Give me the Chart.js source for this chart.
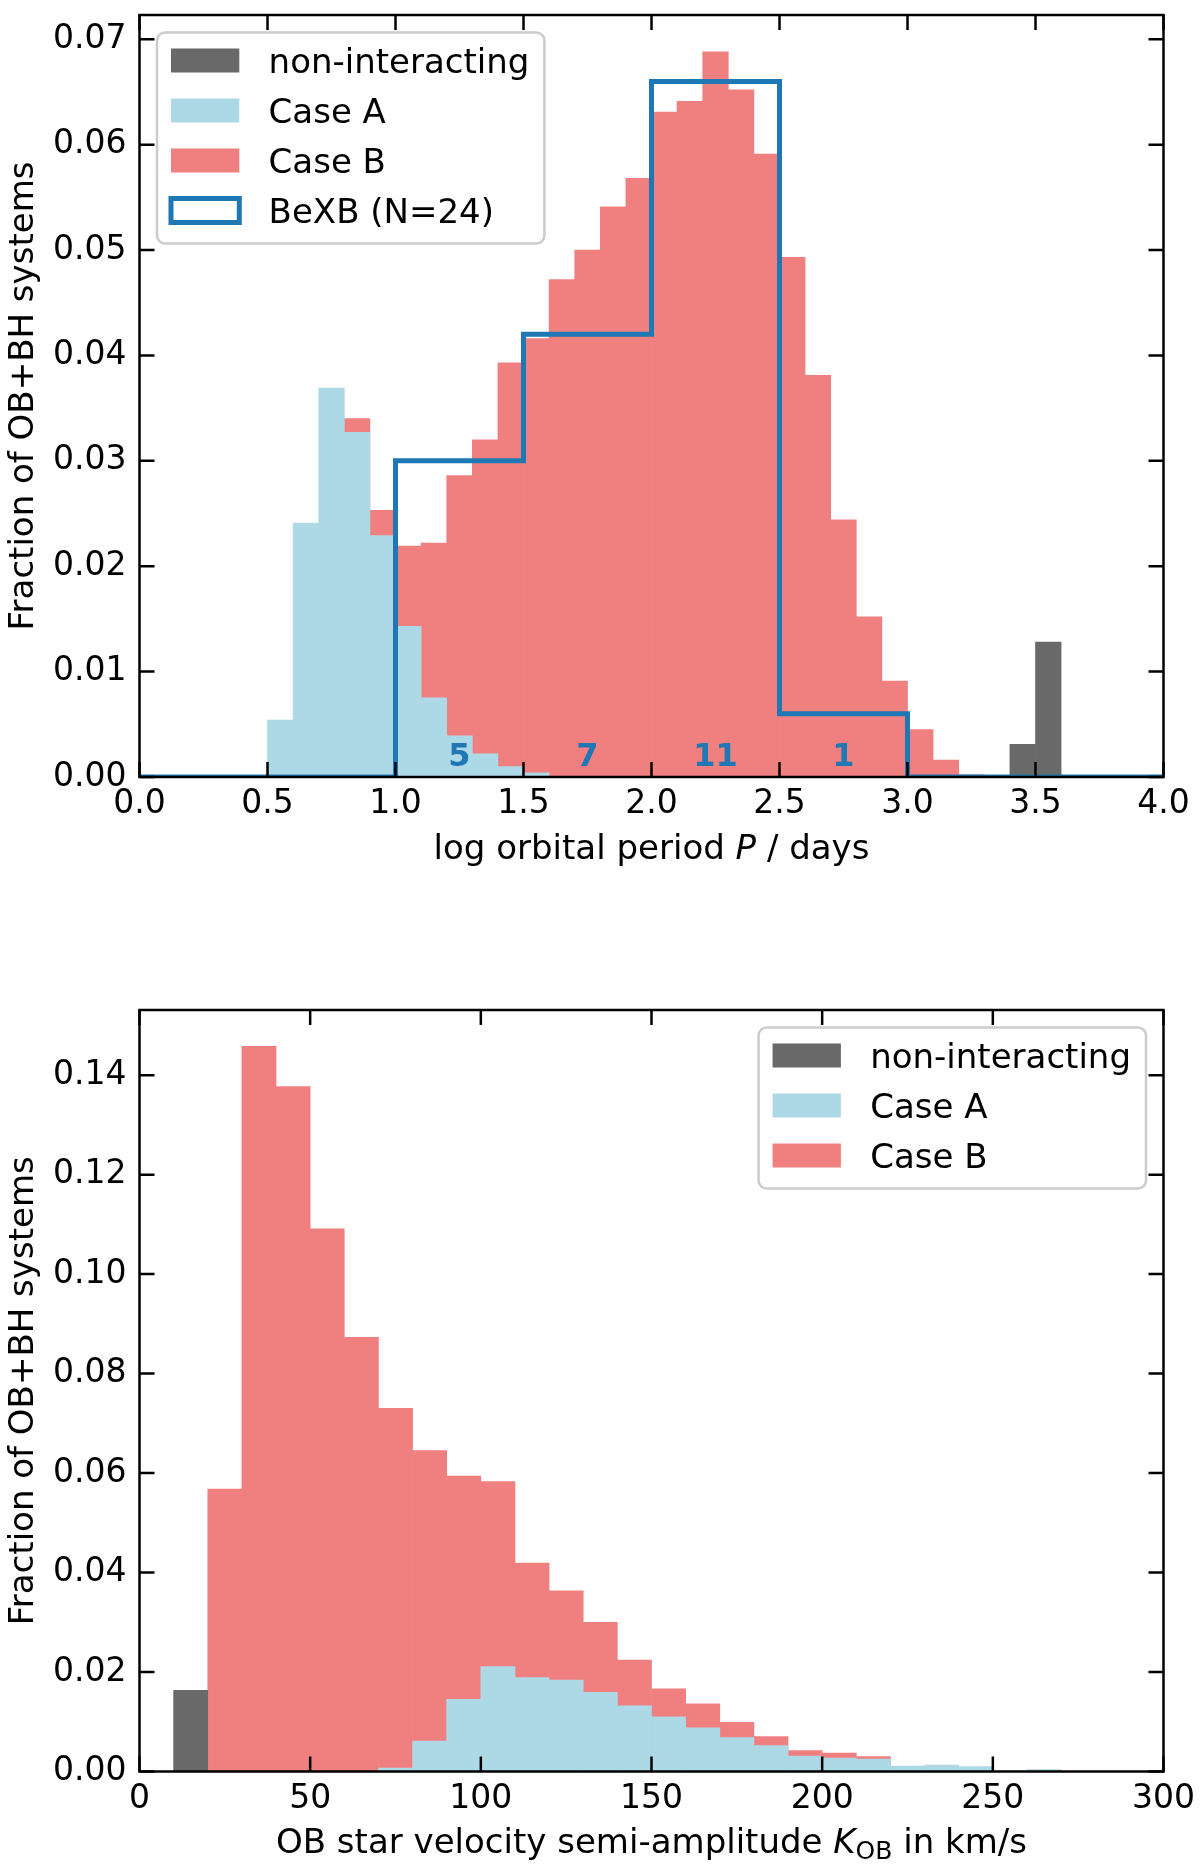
<!DOCTYPE html>
<html>
<head>
<meta charset="utf-8">
<script src="https://cdn.jsdelivr.net/npm/chart.js@4.4.0/dist/chart.umd.min.js"></script>
<style>
  html, body { margin: 0; padding: 0; background: #fff; }
  canvas { display: block; }
</style>
</head>
<body>
<canvas id="periodChart" width="1200" height="920"></canvas>
<canvas id="velocityChart" width="1200" height="954"></canvas>
<script>
// ---- top panel: log orbital period, 0.1 dex bins (left edges) ----
const periodBinWidth = 0.1;
const periodBins = [0.5, 0.6, 0.7, 0.8, 0.9, 1.0, 1.1, 1.2, 1.3, 1.4, 1.5, 1.6, 1.7, 1.8, 1.9, 2.0,
                    2.1, 2.2, 2.3, 2.4, 2.5, 2.6, 2.7, 2.8, 2.9, 3.0, 3.1, 3.2, 3.3, 3.4, 3.5];
const periodNonInteracting = [0, 0, 0, 0, 0, 0, 0, 0, 0, 0, 0, 0, 0, 0, 0, 0,
                              0, 0, 0, 0, 0, 0, 0, 0, 0, 0, 0, 0, 0, 0.0031, 0.0128];
const periodCaseA = [0.0054, 0.0241, 0.0369, 0.0327, 0.0229, 0.0143, 0.0075, 0.0039, 0.0022, 0.0010, 0.0004,
                     0, 0, 0, 0, 0, 0, 0, 0, 0, 0, 0, 0, 0, 0, 0, 0, 0, 0, 0, 0];
const periodCaseB = [null, null, null, 0.0340, 0.0253, 0.0219, 0.0222, 0.0286, 0.0320, 0.0393, 0.0416,
                     0.0472, 0.0500, 0.0541, 0.0568, 0.0631, 0.0641, 0.0688, 0.0652, 0.0591, 0.0493,
                     0.0381, 0.0244, 0.0152, 0.0091, 0.0045, 0.0016, 0.0002, 0, 0, 0];
// observed BeXB, 0.5 dex bins
const bexbEdges = [0.0, 0.5, 1.0, 1.5, 2.0, 2.5, 3.0, 3.5, 4.0];
const bexbFraction = [0, 0, 0.030, 0.042, 0.066, 0.006, 0, 0];
const bexbCounts = [null, null, 5, 7, 11, 1, null, null];

const periodTicks = [0, 0.5, 1.0, 1.5, 2.0, 2.5, 3.0, 3.5, 4.0];
const periodTickLabels = ['0.0', '0.5', '1.0', '1.5', '2.0', '2.5', '3.0', '3.5', '4.0'];
const periodFracTicks = [0, 0.01, 0.02, 0.03, 0.04, 0.05, 0.06, 0.07];
const periodFracTickLabels = ['0.00', '0.01', '0.02', '0.03', '0.04', '0.05', '0.06', '0.07'];

// ---- bottom panel: K_OB, 10 km/s bins (left edges) ----
const velocityBinWidth = 10;
const velocityBins = [10, 20, 30, 40, 50, 60, 70, 80, 90, 100, 110, 120, 130,
                      140, 150, 160, 170, 180, 190, 200, 210, 220, 230, 240, 250, 260];
const velocityNonInteracting = [0.0163, 0, 0, 0, 0, 0, 0, 0, 0, 0, 0, 0, 0,
                                0, 0, 0, 0, 0, 0, 0, 0, 0, 0, 0, 0, 0];
const velocityCaseA = [0, 0, 0, 0, 0, 0, 0.0007, 0.0061, 0.0145, 0.0211, 0.0189, 0.0184, 0.0159,
                       0.0132, 0.0110, 0.0088, 0.0068, 0.0052, 0.0031, 0.0027, 0.0025, 0.0011, 0.0013, 0.0010, 0.0002, 0.0004];
const velocityCaseB = [0, 0.0568, 0.1458, 0.1377, 0.1091, 0.0873, 0.0730, 0.0645, 0.0594, 0.0583, 0.0419, 0.0363, 0.0300,
                       0.0224, 0.0166, 0.0136, 0.0099, 0.0070, 0.0042, 0.0037, 0.0030, null, null, null, null, null];

const velocityTicks = [0, 50, 100, 150, 200, 250, 300];
const velocityTickLabels = ['0', '50', '100', '150', '200', '250', '300'];
const velocityFracTicks = [0, 0.02, 0.04, 0.06, 0.08, 0.10, 0.12, 0.14];
const velocityFracTickLabels = ['0.00', '0.02', '0.04', '0.06', '0.08', '0.10', '0.12', '0.14'];

const GRAY = '#696969';   // dimgray
const BLUE = '#add8e6';   // lightblue
const RED = '#f08080';    // lightcoral
const LINE = '#1f77b4';
const FONT = '"DejaVu Sans", sans-serif';

Chart.defaults.font.family = FONT;
Chart.defaults.color = '#000';

function toBars(bins, values, width) {
  return bins.map((b, i) => ({ x: b + width / 2, y: values[i] }));
}

// outline of a step histogram, like histtype='step'
function stepPoints(edges, values) {
  const pts = [{ x: edges[0], y: 0 }];
  values.forEach((v, i) => {
    pts.push({ x: edges[i], y: v });
    pts.push({ x: edges[i + 1], y: v });
  });
  pts.push({ x: edges[edges.length - 1], y: 0 });
  return pts;
}

function barSet(label, color, data, order) {
  return {
    type: 'bar', label, data, order,
    backgroundColor: color, borderWidth: 0,
    grouped: false, barPercentage: 1, categoryPercentage: 1
  };
}

function fixedTicks(values, labels, padding) {
  return {
    afterBuildTicks: s => { s.ticks = values.map(v => ({ value: v })); },
    ticks: {
      callback: (v, i) => labels[i],
      autoSkip: false, maxRotation: 0, minRotation: 0, padding,
      font: { size: 33, lineHeight: 1 }, color: '#000'
    }
  };
}

// spines + inward ticks on all four sides
const frameTicks = {
  id: 'frameTicks',
  afterDraw(chart) {
    const { ctx, chartArea: a, scales: { x, y } } = chart;
    const len = 15;
    ctx.save();
    ctx.strokeStyle = '#000';
    ctx.lineWidth = 2.5;
    ctx.beginPath();
    x.ticks.forEach(t => {
      const p = x.getPixelForValue(t.value);
      ctx.moveTo(p, a.bottom); ctx.lineTo(p, a.bottom - len);
      ctx.moveTo(p, a.top); ctx.lineTo(p, a.top + len);
    });
    y.ticks.forEach(t => {
      const p = y.getPixelForValue(t.value);
      ctx.moveTo(a.left, p); ctx.lineTo(a.left + len, p);
      ctx.moveTo(a.right, p); ctx.lineTo(a.right - len, p);
    });
    ctx.stroke();
    ctx.strokeRect(a.left, a.top, a.right - a.left, a.bottom - a.top);
    ctx.restore();
  }
};

function makeLegend(align) {
  return {
    id: 'mplLegend',
    afterDraw(chart) {
      const { ctx, chartArea: a } = chart;
      const items = chart.data.datasets;
      ctx.save();
      ctx.font = '34px ' + FONT;
      const textW = Math.max(...items.map(d => ctx.measureText(d.label).width));
      const w = 111.6 + textW + 15;
      const h = 28 + (items.length - 1) * 50 + 33;
      const inset = 17.5;
      const left = align === 'right' ? a.right - inset - w : a.left + inset;
      const top = a.top + inset;
      ctx.beginPath();
      ctx.roundRect(left, top, w, h, 8);
      ctx.fillStyle = 'rgba(255,255,255,0.8)';
      ctx.fill();
      ctx.strokeStyle = '#cccccc';
      ctx.lineWidth = 2.5;
      ctx.stroke();
      items.forEach((d, i) => {
        const cy = top + 28 + i * 50;
        const px = left + 14, py = cy - 12;
        if (d.type === 'line') {
          ctx.strokeStyle = d.borderColor;
          ctx.lineWidth = 5;
          ctx.strokeRect(px, py, 68.3, 24);
        } else {
          ctx.fillStyle = d.backgroundColor;
          ctx.fillRect(px, py, 68.3, 24);
        }
        ctx.fillStyle = '#000';
        ctx.textBaseline = 'alphabetic';
        ctx.textAlign = 'left';
        ctx.fillText(d.label, left + 111.6, cy + 12);
      });
      ctx.restore();
    }
  };
}

// axis titles with italic / subscript pieces (mathtext-like)
function makeTitles(xParts, xBaseline, yText) {
  return {
    id: 'axisTitles',
    afterDraw(chart) {
      const { ctx, chartArea: a } = chart;
      const fontOf = p => (p.italic ? 'italic ' : '') + (p.sub ? '25px ' : '34px ') + FONT;
      ctx.save();
      ctx.fillStyle = '#000';
      ctx.textBaseline = 'alphabetic';
      ctx.textAlign = 'left';
      const widths = xParts.map(p => { ctx.font = fontOf(p); return ctx.measureText(p.text).width; });
      let xx = (a.left + a.right) / 2 - widths.reduce((s, v) => s + v, 0) / 2;
      xParts.forEach((p, i) => {
        ctx.font = fontOf(p);
        ctx.fillText(p.text, xx, xBaseline + (p.sub ? 6 : 0));
        xx += widths[i];
      });
      ctx.font = '34px ' + FONT;
      ctx.textAlign = 'center';
      ctx.translate(33, (a.top + a.bottom) / 2);
      ctx.rotate(-Math.PI / 2);
      ctx.fillText(yText, 0, 0);
      ctx.restore();
    }
  };
}

const bexbLabels = {
  id: 'bexbLabels',
  afterDatasetsDraw(chart) {
    const { ctx, scales: { x, y } } = chart;
    ctx.save();
    ctx.font = 'bold 32px ' + FONT;
    ctx.fillStyle = LINE;
    ctx.textAlign = 'center';
    ctx.textBaseline = 'alphabetic';
    bexbCounts.forEach((n, i) => {
      if (n === null) return;
      const cx = x.getPixelForValue((bexbEdges[i] + bexbEdges[i + 1]) / 2);
      ctx.fillText(String(n), cx, y.getPixelForValue(0.001));
    });
    ctx.restore();
  }
};

function panelOptions(p) {
  return {
    responsive: false,
    animation: false,
    events: [],
    layout: { padding: { top: p.padTop, right: 36.5, bottom: 0, left: 0 } },
    scales: {
      x: Object.assign({
        type: 'linear', min: p.xMin, max: p.xMax, offset: false,
        grid: { display: false, drawTicks: false }, border: { display: false },
        afterFit: s => { s.height = p.xAxisHeight; s.paddingLeft = 0; s.paddingRight = 0; }
      }, fixedTicks(p.xTicks, p.xLabels, 11)),
      y: Object.assign({
        type: 'linear', min: 0, max: p.yMax,
        grid: { display: false, drawTicks: false }, border: { display: false },
        afterFit: s => { s.width = 139.5; s.paddingTop = 0; s.paddingBottom = 0; }
      }, fixedTicks(p.yTicks, p.yLabels, 13))
    },
    plugins: { legend: { display: false }, tooltip: { enabled: false } }
  };
}

new Chart(document.getElementById('periodChart'), {
  type: 'bar',
  data: {
    datasets: [
      barSet('non-interacting', GRAY, toBars(periodBins, periodNonInteracting, periodBinWidth), 1),
      barSet('Case A', BLUE, toBars(periodBins, periodCaseA, periodBinWidth), 2),
      barSet('Case B', RED, toBars(periodBins, periodCaseB, periodBinWidth), 3),
      {
        type: 'line', label: 'BeXB (N=24)', order: 0,
        data: stepPoints(bexbEdges, bexbFraction),
        borderColor: LINE, backgroundColor: LINE, borderWidth: 5,
        borderJoinStyle: 'miter', borderCapStyle: 'butt',
        pointRadius: 0, fill: false, tension: 0, clip: 0
      }
    ]
  },
  options: panelOptions({
    padTop: 15, xAxisHeight: 143, xMin: 0, xMax: 4, yMax: 0.0723,
    xTicks: periodTicks, xLabels: periodTickLabels,
    yTicks: periodFracTicks, yLabels: periodFracTickLabels
  }),
  plugins: [
    bexbLabels, frameTicks, makeLegend('left'),
    makeTitles([{ text: 'log orbital period ' }, { text: 'P', italic: true }, { text: ' / days' }],
               859, 'Fraction of OB+BH systems')
  ]
});

new Chart(document.getElementById('velocityChart'), {
  type: 'bar',
  data: {
    datasets: [
      barSet('non-interacting', GRAY, toBars(velocityBins, velocityNonInteracting, velocityBinWidth), 1),
      barSet('Case A', BLUE, toBars(velocityBins, velocityCaseA, velocityBinWidth), 2),
      barSet('Case B', RED, toBars(velocityBins, velocityCaseB, velocityBinWidth), 3)
    ]
  },
  options: panelOptions({
    padTop: 90, xAxisHeight: 102.5, xMin: 0, xMax: 300, yMax: 0.1531,
    xTicks: velocityTicks, xLabels: velocityTickLabels,
    yTicks: velocityFracTicks, yLabels: velocityFracTickLabels
  }),
  plugins: [
    frameTicks, makeLegend('right'),
    makeTitles([{ text: 'OB star velocity semi-amplitude ' }, { text: 'K', italic: true },
                { text: 'OB', sub: true }, { text: ' in km/s' }],
               933, 'Fraction of OB+BH systems')
  ]
});
</script>
</body>
</html>
